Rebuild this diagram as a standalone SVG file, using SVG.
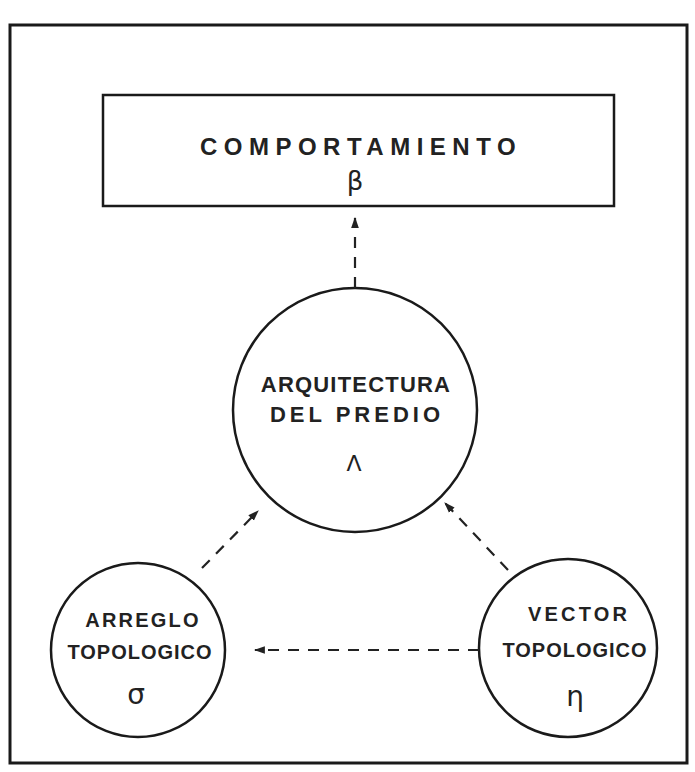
<svg xmlns="http://www.w3.org/2000/svg" width="695" height="772" viewBox="0 0 695 772">
<style>
.frame{fill:none;stroke:#1a1a1a;stroke-width:3}
.node{fill:#fff;stroke:#1a1a1a;stroke-width:2.5}
.lbl{font-family:"Liberation Sans",Arial,sans-serif;font-weight:bold;fill:#222;text-anchor:middle}
.sym{font-family:"DejaVu Sans","Liberation Sans",sans-serif;fill:#222;text-anchor:middle}
.conn{fill:none;stroke:#222;stroke-width:2.2;stroke-dasharray:11,9}
</style>
<defs>
<marker id="ah" viewBox="0 0 10 10" refX="9" refY="5" markerWidth="5" markerHeight="5" orient="auto" markerUnits="strokeWidth">
<path d="M0,1.5 L10,5 L0,8.5 Z" fill="#222"/>
</marker>
</defs>
<rect width="695" height="772" fill="#fff"/>
<rect class="frame" x="10" y="25" width="677" height="738"/>
<g id="comportamiento">
<rect class="node" x="103" y="95" width="511" height="111"/>
<text class="lbl" x="361" y="155" font-size="24" letter-spacing="6.5">COMPORTAMIENTO</text>
<text class="sym" x="355" y="190" font-size="26">β</text>
</g>
<g id="arquitectura">
<circle class="node" cx="355" cy="410" r="122"/>
<text class="lbl" x="356" y="392" font-size="22" letter-spacing="1.2">ARQUITECTURA</text>
<text class="lbl" x="357" y="422" font-size="22" letter-spacing="4">DEL PREDIO</text>
<text class="sym" x="354" y="471" font-size="22">Λ</text>
</g>
<g id="arreglo">
<circle class="node" cx="138" cy="650" r="87"/>
<text class="lbl" x="143" y="627" font-size="20" letter-spacing="2.2">ARREGLO</text>
<text class="lbl" x="140" y="659" font-size="20" letter-spacing="1">TOPOLOGICO</text>
<text class="sym" x="136" y="704" font-size="28">σ</text>
</g>
<g id="vector">
<circle class="node" cx="568" cy="648" r="89"/>
<text class="lbl" x="579" y="621" font-size="20" letter-spacing="3.2">VECTOR</text>
<text class="lbl" x="575" y="657" font-size="20" letter-spacing="1">TOPOLOGICO</text>
<text class="sym" x="575" y="706" font-size="28">η</text>
</g>
<g id="connectors">
<line class="conn" x1="355" y1="288" x2="355" y2="218" marker-end="url(#ah)"/>
<line class="conn" x1="202" y1="568" x2="258" y2="511" marker-end="url(#ah)"/>
<line class="conn" x1="508" y1="570" x2="445" y2="503" marker-end="url(#ah)"/>
<line class="conn" x1="479" y1="650" x2="255" y2="650" marker-end="url(#ah)"/>
</g>
</svg>
